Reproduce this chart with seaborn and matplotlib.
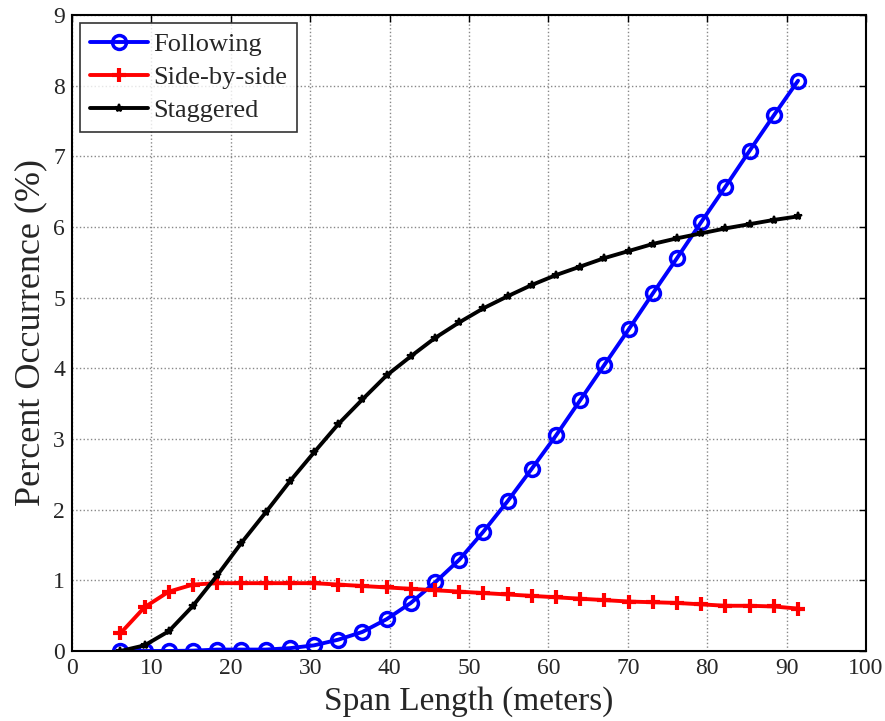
import numpy as np
import pandas as pd
import matplotlib
matplotlib.use("Agg")
import matplotlib.pyplot as plt
import seaborn as sns

# Span lengths: 20 ft to 300 ft in 10 ft steps, in meters
span_ft = list(range(20, 310, 10))
span_m = [f * 0.3048 for f in span_ft]

following = [0.0, 0.0, 0.0, 0.005, 0.02, 0.02, 0.02, 0.04, 0.08, 0.16,
             0.27, 0.45, 0.68, 0.97, 1.29, 1.69, 2.12, 2.58, 3.05, 3.55,
             4.05, 4.55, 5.06, 5.56, 6.07, 6.57, 7.08, 7.58, 8.07]
side_by_side = [0.25, 0.62, 0.84, 0.94, 0.96, 0.96, 0.96, 0.96, 0.96, 0.94,
                0.92, 0.90, 0.88, 0.86, 0.84, 0.82, 0.80, 0.78, 0.76, 0.74,
                0.72, 0.70, 0.69, 0.68, 0.66, 0.64, 0.64, 0.63, 0.60]
staggered = [0.0, 0.08, 0.28, 0.64, 1.07, 1.53, 1.96, 2.40, 2.81, 3.21,
             3.56, 3.90, 4.17, 4.43, 4.65, 4.85, 5.02, 5.18, 5.32, 5.44,
             5.56, 5.66, 5.76, 5.84, 5.91, 5.98, 6.04, 6.10, 6.15]

x_ticks = list(range(0, 101, 10))
y_ticks = list(range(0, 10))

sns.set_theme(style="white")
plt.rcParams["font.family"] = ["Liberation Serif", "DejaVu Serif"]

fig = plt.figure(figsize=(8.85, 7.21), dpi=100)
ax = fig.add_axes([72 / 885, 1 - 651 / 721, (866 - 72) / 885, (651 - 15) / 721])

series = [
    ("Following", following, "#0000ff", "o", 10, dict(markerfacecolor="none", markeredgewidth=2.5)),
    ("Side-by-side", side_by_side, "#ff0000", "+", 10, dict(markeredgewidth=3)),
    ("Staggered", staggered, "#000000", "*", 6, dict(markeredgewidth=1.5)),
]
for name, vals, color, mk, ms, extra in series:
    sns.lineplot(x=span_m, y=vals, ax=ax, color=color, lw=2.8, marker=mk,
                 markersize=ms, markeredgecolor=color, label=name, **extra)

ax.set_xlim(0, 100)
ax.set_ylim(0, 9)
ax.set_xticks(x_ticks)
ax.set_yticks(y_ticks)
ax.tick_params(direction="in", top=True, right=True, length=5, width=1,
               labelsize=17, color="black", pad=5)
ax.grid(True, color="#888888", linestyle=":", linewidth=1)
for sp in ax.spines.values():
    sp.set_color("black")
    sp.set_linewidth(1.5)

ax.set_xlabel("Span Length (meters)", fontsize=24, labelpad=5)
ax.set_ylabel("Percent Occurrence (%)", fontsize=26, labelpad=4)

leg = ax.legend(loc="upper left", fontsize=19, frameon=True, fancybox=False,
                borderaxespad=0.3, handlelength=2.2, borderpad=0.38,
                labelspacing=0.35, handletextpad=0.2)
leg.get_frame().set_edgecolor("black")
leg.get_frame().set_linewidth(1.2)

fig.savefig("out.png", dpi=100)
